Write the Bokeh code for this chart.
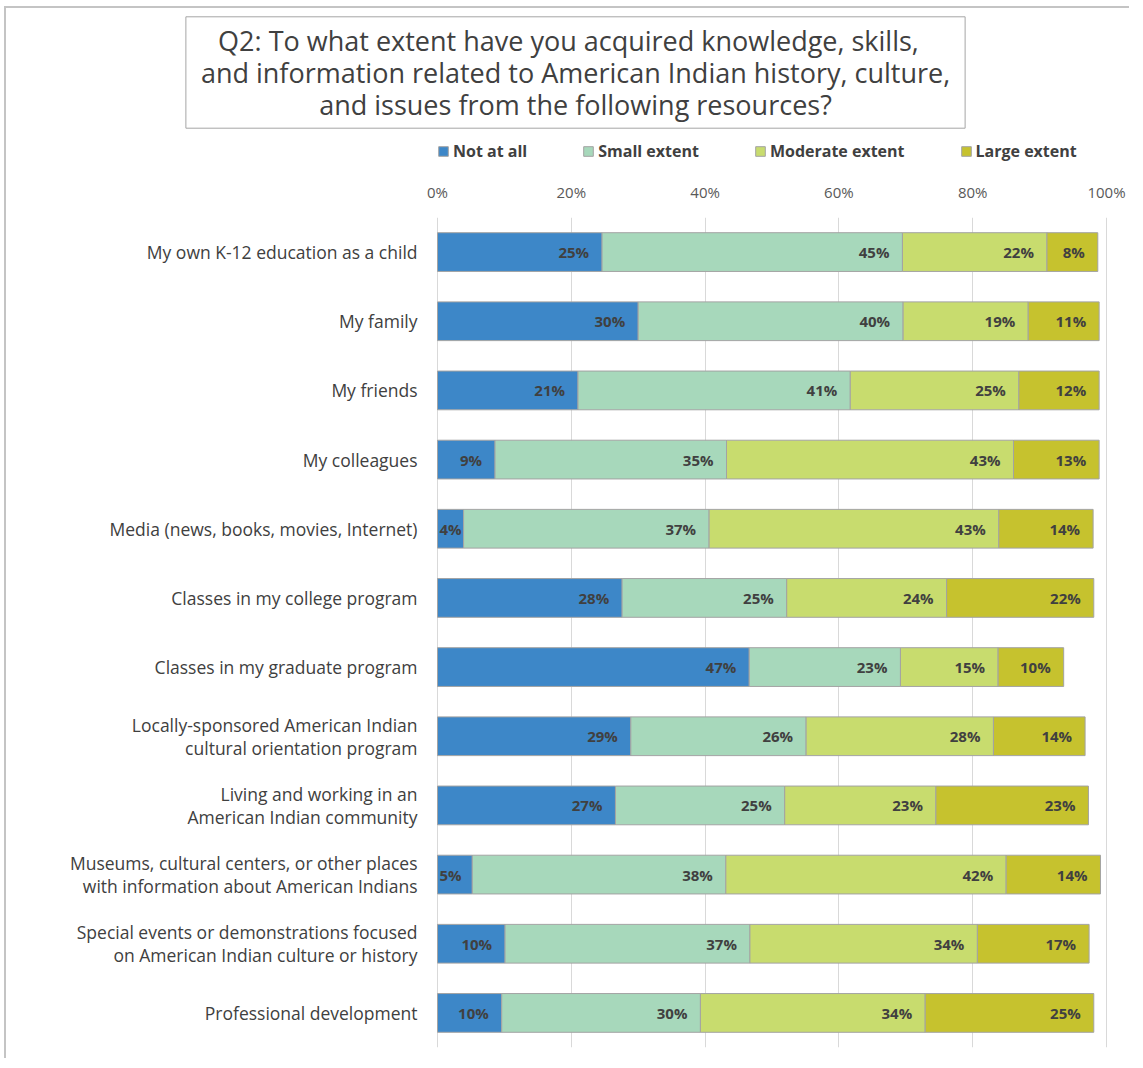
from bokeh.plotting import figure
from bokeh.models import (ColumnDataSource, FactorRange, Range1d, FixedTicker, Legend,
                          LegendItem, Label)
from bokeh.layouts import column
from bokeh.core.properties import value
from bokeh.embed import file_html
from bokeh.resources import INLINE

# ---------------- data ----------------
title_text = ("Q2:  To what extent have you acquired  knowledge, skills,\n"
              "and information related to American Indian history, culture,\n"
              "and issues from the following resources?")

categories = [
    "My own K-12 education as a child",
    "My family",
    "My friends",
    "My colleagues",
    "Media (news, books, movies, Internet)",
    "Classes in my college program",
    "Classes in my graduate program",
    "Locally-sponsored American Indian\ncultural orientation program",
    "Living and working in an\nAmerican Indian community",
    "Museums, cultural centers, or other places\nwith information about American Indians",
    "Special events or demonstrations focused\non American Indian culture or history",
    "Professional development",
]
series_names = ["Not at all", "Small extent", "Moderate extent", "Large extent"]
not_at_all = [24.6, 30.0, 21.0, 8.6, 3.9, 27.6, 46.6, 28.9, 26.6, 5.2, 10.1, 9.6]
small_extent = [44.9, 39.6, 40.7, 34.6, 36.7, 24.6, 22.6, 26.2, 25.3, 37.9, 36.6, 29.7]
moderate_extent = [21.6, 18.7, 25.2, 42.9, 43.3, 23.9, 14.6, 28.0, 22.6, 41.9, 34.0, 33.6]
large_extent = [7.6, 10.6, 12.0, 12.8, 14.1, 22.0, 9.8, 13.7, 22.8, 14.1, 16.7, 25.2]
tick_values = [0, 20, 40, 60, 80, 100]
tick_labels = ["0%", "20%", "40%", "60%", "80%", "100%"]
colors = ["#3d87c8", "#a7d8bb", "#c8dc6e", "#c6c22e"]

series = [not_at_all, small_extent, moderate_extent, large_extent]

# ---------------- layout constants (pixels) ----------------
W = 1125          # canvas width (plus 2px css border)
HT = 170          # header figure height
HM = 882          # main figure height
ZERO_PX = 431     # where 0% sits inside the canvas
SPAN_PX = 669     # pixels from 0% to 100%
BORDER = "2px solid #c4c4c4"
NAN = float("nan")

# ---------------- header figure (title box + legend) ----------------
hf = figure(width=W, height=HT, output_backend="svg", toolbar_location=None,
            x_range=Range1d(0, W), y_range=Range1d(HT, 0),
            x_axis_location=None, y_axis_location=None,
            min_border_left=0, min_border_right=0, min_border_top=0, min_border_bottom=0)
hf.outline_line_color = None
hf.grid.visible = False
hf.styles = {"border-top": BORDER, "border-left": BORDER}

title = Label(x=569, y=64, text=title_text,
              text_align="center", text_baseline="middle",
              text_font="Open Sans", text_font_size="27px", text_color="#404040",
              text_line_height=0.87,
              border_line_color="#a6a6a6", border_line_width=1,
              background_fill_color="white", padding=(15, 5))
hf.add_layout(title)

legend_rs = []
for col in colors:
    legend_rs.append(hf.hbar(y=[NAN], left=[NAN], right=[NAN], height=1,
                             fill_color=col, line_color="#a3a3a3"))
legend = Legend(items=[LegendItem(label=n, renderers=[r]) for n, r in zip(series_names, legend_rs)],
                orientation="horizontal", location=(ZERO_PX, 16),
                glyph_width=12, glyph_height=12, label_standoff=4, spacing=55,
                padding=0, margin=0, label_height=16,
                label_text_font="Open Sans", label_text_font_size="16px",
                label_text_font_style="bold", label_text_color="#404040",
                background_fill_alpha=0, border_line_color=None)
hf.add_layout(legend, "center")

# ---------------- main figure ----------------
px_per_pct = SPAN_PX / 100.0
p = figure(width=W, height=HM, output_backend="svg", toolbar_location=None,
           y_range=FactorRange(factors=list(reversed(categories)), range_padding=0),
           x_range=Range1d(-ZERO_PX / px_per_pct, (W - ZERO_PX) / px_per_pct),
           x_axis_location="above", y_axis_location=None,
           min_border_left=0, min_border_right=0, min_border_top=41,
           min_border_bottom=11)
p.outline_line_color = None
p.styles = {"border-left": BORDER}

xa = p.xaxis[0]
xa.ticker = FixedTicker(ticks=tick_values)
xa.major_label_overrides = {v: t for v, t in zip(tick_values, tick_labels)}
xa.axis_line_color = None
xa.major_tick_out = 0
xa.major_tick_in = 0
xa.minor_tick_out = 0
xa.minor_tick_in = 0
xa.major_label_standoff = 16
xa.major_label_text_font = "Open Sans"
xa.major_label_text_font_size = "15px"
xa.major_label_text_color = "#595959"

p.xgrid.grid_line_color = "#d9d9d9"
p.ygrid.grid_line_color = None

# category labels
p.text(x=[0] * len(categories), y=categories, text=categories,
       text_align="right", text_baseline="middle", x_offset=-20,
       text_font=value("Open Sans"), text_font_size="17.5px", text_color="#404040",
       text_line_height=0.95)

left = [0.0] * len(categories)
right_groups = {"y": [], "x": [], "t": []}
left_groups = {"y": [], "x": [], "t": []}
for vals, col in zip(series, colors):
    right = [l + v for l, v in zip(left, vals)]
    src = ColumnDataSource(dict(y=categories, left=left, right=right))
    p.hbar(y="y", left="left", right="right", height=0.56, source=src,
           fill_color=col, line_color="#a3a3a3", line_width=1)
    for c, l, rr, v in zip(categories, left, right, vals):
        lab = f"{round(v)}%"
        if v < 6:
            left_groups["y"].append(c); left_groups["x"].append(l); left_groups["t"].append(lab)
        else:
            right_groups["y"].append(c); right_groups["x"].append(rr); right_groups["t"].append(lab)
    left = right

common = dict(text_font=value("Open Sans"), text_font_size="15px", text_font_style="bold",
              text_color="#404040", text_baseline="middle")
p.text(x="x", y="y", text="t", source=ColumnDataSource(right_groups),
       text_align="right", x_offset=-13, **common)
p.text(x="x", y="y", text="t", source=ColumnDataSource(left_groups),
       text_align="left", x_offset=2, **common)

layout = column(hf, p, spacing=0)
layout.styles = {"margin-left": "4px", "margin-top": "6px"}
open("out.html", "w").write(file_html(layout, INLINE))
